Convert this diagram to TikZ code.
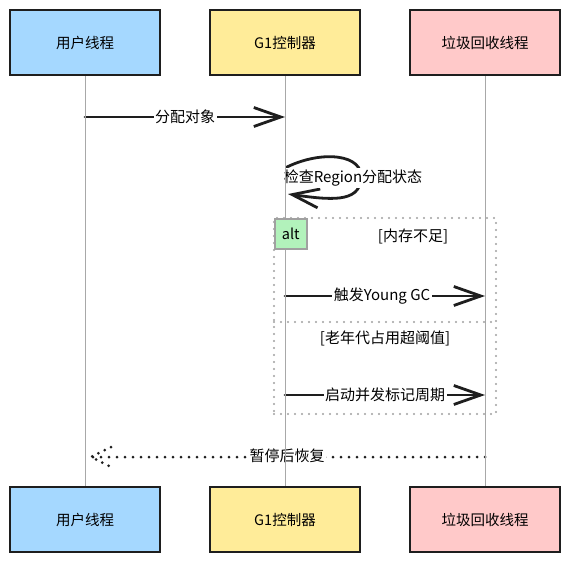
\documentclass[tikz,border=0pt]{standalone}
\usepackage{fontspec}
\setmainfont{Noto Sans CJK SC}
\usetikzlibrary{arrows.meta,calc}
\definecolor{cblue}{HTML}{A5D8FF}
\definecolor{cyellow}{HTML}{FFEC99}
\definecolor{cpink}{HTML}{FFC9C9}
\definecolor{cgreen}{HTML}{B2F2BB}
\definecolor{cframe}{HTML}{A0A0A0}
\definecolor{cline}{HTML}{A8A8A8}
\definecolor{cink}{HTML}{1E1E1E}
\begin{document}
\begin{tikzpicture}[x=1pt,y=-1pt,
  actor/.style={draw=cink, line width=2.2pt, minimum width=150pt, minimum height=65pt,
    inner sep=0pt, font=\fontsize{14.5}{16}\selectfont},
  life/.style={draw=cline, line width=1pt},
  msg/.style={draw=cink, line width=2.8pt, line cap=round, line join=round,
    -{Straight Barb[length=27pt,width=19pt]}},
  dotline/.style={draw=cink, line width=3pt, line cap=round, dash pattern=on 0pt off 8pt},
  dothead/.style={draw=cink, line width=3pt, line cap=round, dash pattern=on 0pt off 7pt},
  lbl/.style={fill=white, inner sep=1.5pt, font=\fontsize{15}{17}\selectfont},
  guard/.style={inner sep=1pt, font=\fontsize{15}{17}\selectfont},
  frame/.style={draw=cframe, line width=2.2pt, line cap=round, dash pattern=on 0pt off 7pt},
  tagbox/.style={draw=cframe, line width=1.6pt, fill=cgreen, minimum width=32pt,
    minimum height=30pt, inner sep=0pt, font=\fontsize{14.5}{16}\selectfont}
]
\useasboundingbox (0,0) rectangle (570,562);
\fill[white] (0,0) rectangle (570,562);

% participants
\node[actor, fill=cblue]   (u1) at (85,42.5)  {用户线程};
\node[actor, fill=cyellow] (g1) at (285,42.5) {G1控制器};
\node[actor, fill=cpink]   (c1) at (485,42.5) {垃圾回收线程};
\node[actor, fill=cblue]   (u2) at (85,519.5)  {用户线程};
\node[actor, fill=cyellow] (g2) at (285,519.5) {G1控制器};
\node[actor, fill=cpink]   (c2) at (485,519.5) {垃圾回收线程};

% message end points
\coordinate (m1s) at (85,117);  \coordinate (m1e) at (285,117);
\coordinate (s1)  at (287,167); \coordinate (s2)  at (288,194);
\coordinate (m3s) at (285,296); \coordinate (m3e) at (485,296);
\coordinate (m4s) at (285,395); \coordinate (m4e) at (485,395);
\coordinate (m5s) at (485,457); \coordinate (m5e) at (91,457);

% messages
\draw[msg] (m1s) -- (m1e) node[lbl, midway] (l1) {分配对象};
\draw[msg] (s1) .. controls (322,150) and (364,154) .. (361,179)
           .. controls (359,203) and (330,200) .. (s2);
\node[lbl] (l2) at (353,178) {检查Region分配状态};
\draw[msg] (m3s) -- (m3e);
\node[lbl] (l3) at (382,296) {触发Young GC};
\draw[msg] (m4s) -- (m4e);
\node[lbl] (l4) at (385,395) {启动并发标记周期};
\draw[dotline] (m5s) -- (m5e);
\draw[dothead] ($(m5e)+(20,-10)$) -- (m5e) -- ($(m5e)+(20,10)$);
\node[lbl] (l5) at (287,456) {暂停后恢复};

% alt frame
\node[frame, minimum width=222pt, minimum height=196pt, inner sep=0pt] (alt) at (385,316) {};
\coordinate (dl) at (274,322); \coordinate (dr) at (496,322);
\draw[frame] (dl) -- (dr);
\node[guard] (gd1) at (413,236) {[内存不足]};
\node[guard] (gd2) at (385,338) {[老年代占用超阈值]};

% lifelines
\draw[life] (u1.south) -- (u2.north);
\draw[life] (g1.south) -- (g2.north);
\draw[life] (c1.south) -- (c2.north);

% alt tag
\node[tagbox, anchor=north west] (tag) at (274,218) {alt};
\end{tikzpicture}
\end{document}
